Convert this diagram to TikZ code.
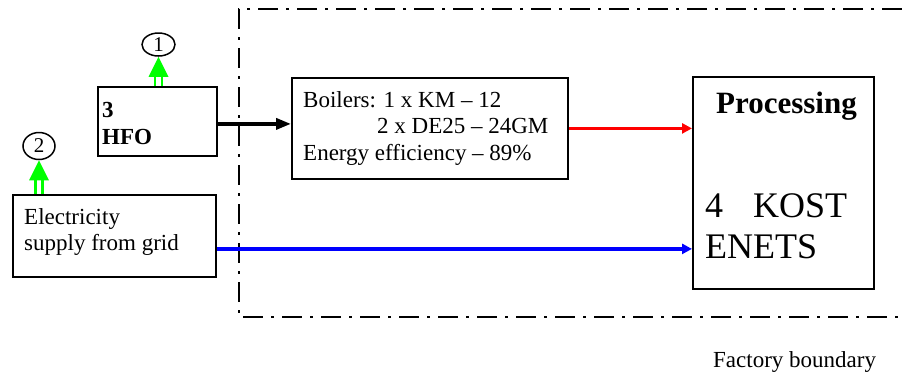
\documentclass[tikz,border=0pt]{standalone}
\usepackage{fontspec}
\setmainfont{Liberation Serif}
\usetikzlibrary{arrows.meta,shapes.geometric}
\begin{document}
\begin{tikzpicture}[x=1pt,y=-1pt,
  box/.style={draw,line width=1.8pt,rectangle,inner sep=0pt,anchor=north west},
  txt/.style={anchor=base west,inner sep=0pt,font=\fontsize{23}{27}\selectfont},
  num/.style={draw,line width=1.5pt,ellipse,inner sep=0pt,font=\fontsize{21}{23}\selectfont},
  flow/.style={line width=3.5pt},
  gshaft/.style={green,line width=2.8pt},
  boundary/.style={line width=2.8pt,dash pattern=on 20pt off 8pt on 3pt off 8pt}]
\definecolor{green}{RGB}{0,255,0}
\useasboundingbox (0,0) rectangle (902,376);
% boxes
\node[box,minimum width=119pt,minimum height=69pt] (hfo) at (97,86) {};
\node[box,minimum width=276pt,minimum height=101pt] (boil) at (291,77) {};
\node[box,minimum width=203pt,minimum height=82pt] (elec) at (12,194) {};
\node[box,line width=2.2pt,minimum width=181pt,minimum height=212pt] (proc) at (692,76) {};
% texts
\node[txt,font=\fontsize{23}{27}\selectfont\bfseries] (t3) at (102,117) {3};
\node[txt,font=\fontsize{23}{27}\selectfont\bfseries] (thfo) at (102,144) {HFO};
\node[txt] (b1) at (303,107) {Boilers: 1 x KM – 12};
\node[txt] (b2) at (377,133) {2 x DE25 – 24GM};
\node[txt] (b3) at (303,160) {Energy efficiency – 89\%};
\node[txt] (e1t) at (24,224) {Electricity};
\node[txt] (e2t) at (24,250) {supply from grid};
\node[anchor=base,inner sep=0pt,font=\fontsize{31}{36}\selectfont\bfseries] (pt) at (786.5,113) {Processing};
\node[txt,font=\fontsize{36}{42}\selectfont] (k4) at (705,217) {4};
\node[txt,font=\fontsize{36}{42}\selectfont] (kost) at (753,217) {KOST};
\node[txt,font=\fontsize{36}{42}\selectfont] (enets) at (705,258) {ENETS};
\node[txt] (fb) at (713,367) {Factory boundary};
% numbered ellipses
\node[num,minimum width=33pt,minimum height=23pt] (n1) at (158.5,44.5) {1};
\node[num,minimum width=32pt,minimum height=27pt] (n2) at (39,146) {2};
% factory boundary
\draw[boundary] (902,9) -- (239,9) -- (239,317) -- (902,317);
% flows
\draw[flow,-{Triangle[length=15pt,width=11pt]}] ([yshift=-2.5pt]hfo.east) -- ([yshift=-2.5pt]hfo.east -| boil.west);
\draw[flow,red,-{Triangle[length=10pt,width=10pt]}] (boil.east) -- (boil.east -| proc.west);
\draw[flow,blue,-{Triangle[length=10pt,width=10pt]}] ([yshift=-13pt]elec.east) -- ([yshift=-13pt]elec.east -| proc.west);
% green arrows
\draw[gshaft] ([xshift=-3.5pt]n1.south |- hfo.north) -- ([xshift=-3.5pt,yshift=11pt]n1.south |- hfo.north);
\draw[gshaft] ([xshift=3.5pt]n1.south |- hfo.north) -- ([xshift=3.5pt,yshift=11pt]n1.south |- hfo.north);
\fill[green] (n1.south) -- ++(-10,20) -- ++(20,0) -- cycle;
\draw[gshaft] ([xshift=-3.5pt]n2.south |- elec.north) -- ([xshift=-3.5pt,yshift=16pt]n2.south |- elec.north);
\draw[gshaft] ([xshift=3.5pt]n2.south |- elec.north) -- ([xshift=3.5pt,yshift=16pt]n2.south |- elec.north);
\fill[green] (n2.south) -- ++(-10,20) -- ++(20,0) -- cycle;
\end{tikzpicture}
\end{document}
